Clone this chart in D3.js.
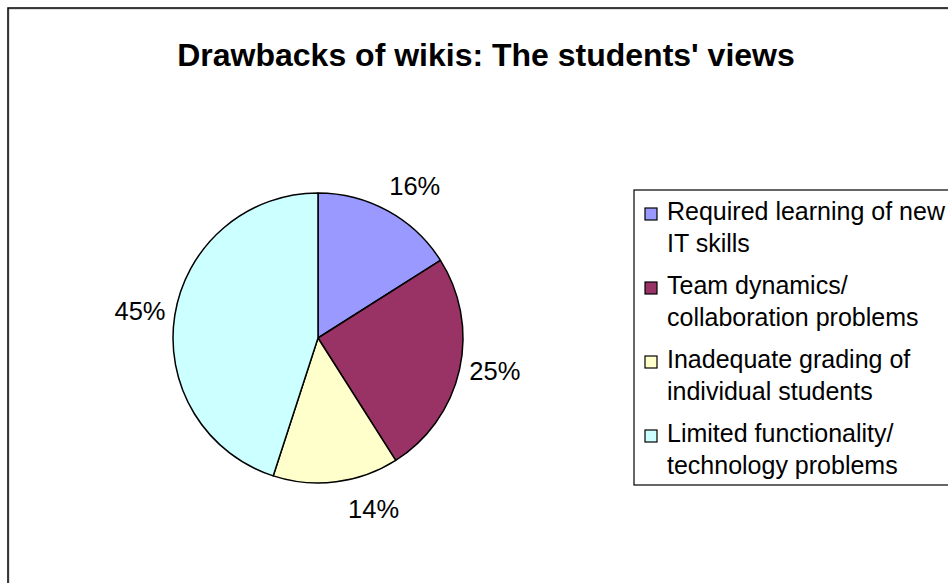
<!DOCTYPE html>
<html>
<head>
<meta charset="utf-8">
<script src="https://cdn.jsdelivr.net/npm/d3@7/dist/d3.min.js"></script>
<style>
  html, body { margin: 0; padding: 0; background: #fff; }
  svg { display: block; }
  text { font-family: "Liberation Sans", Arial, sans-serif; fill: #000; }
</style>
</head>
<body>
<script>
// Survey results: drawbacks of wikis as reported by students
const title = "Drawbacks of wikis: The students' views";
const categories = [
  "Required learning of new IT skills",
  "Team dynamics/ collaboration problems",
  "Inadequate grading of individual students",
  "Limited functionality/ technology problems"
];
// Legend text broken onto two lines per entry
const legendLines = [
  ["Required learning of new", "IT skills"],
  ["Team dynamics/", "collaboration problems"],
  ["Inadequate grading of", "individual students"],
  ["Limited functionality/", "technology problems"]
];
const shares = [16, 25, 14, 45];
const colors = ["#9999FF", "#993366", "#FFFFCC", "#CCFFFF"];

const W = 948, H = 583;
const svg = d3.select("body").append("svg")
  .attr("width", W).attr("height", H);

// Chart area frame (runs off the right and bottom of the view)
svg.append("rect")
  .attr("x", 9).attr("y", 9).attr("width", W + 20).attr("height", H + 20)
  .attr("fill", "none").attr("stroke", "#c0c0c0").attr("stroke-width", 1);
svg.append("rect")
  .attr("x", 8).attr("y", 8).attr("width", W + 20).attr("height", H + 20)
  .attr("fill", "none").attr("stroke", "#000").attr("stroke-width", 1.5);

// Title
svg.append("text")
  .attr("x", 486).attr("y", 66)
  .attr("text-anchor", "middle")
  .style("font-weight", "bold")
  .style("font-size", "32px")
  .text(title);

// Pie
const cx = 318, cy = 338, R = 145;
const pie = d3.pie().sort(null).value(d => d)
  .startAngle(0).endAngle(2 * Math.PI);
const arcs = pie(shares);
const arc = d3.arc().innerRadius(0).outerRadius(R);

const g = svg.append("g").attr("transform", `translate(${cx},${cy})`);
g.selectAll("path.slice")
  .data(arcs)
  .join("path")
  .attr("class", "slice")
  .attr("d", arc)
  .attr("fill", (d, i) => colors[i])
  .attr("stroke", "#000")
  .attr("stroke-width", 1.5)
  .attr("stroke-linejoin", "round");

// Percentage labels outside the pie; small angular nudges keep the
// bottom label clear of the neighbouring slice edge
const labelNudgeDeg = [3.7, -1.9, -10.8, -0.5];
const labelR = 180;
g.selectAll("text.pct")
  .data(arcs)
  .join("text")
  .attr("class", "pct")
  .attr("text-anchor", "middle")
  .attr("dominant-baseline", "central")
  .style("font-size", "25.5px")
  .attr("transform", (d, i) => {
    const a = (d.startAngle + d.endAngle) / 2 + labelNudgeDeg[i] * Math.PI / 180;
    return `translate(${labelR * Math.sin(a)},${-labelR * Math.cos(a)})`;
  })
  .text(d => d.data + "%");

// Legend
const lg = svg.append("g");
lg.append("rect")
  .attr("x", 634).attr("y", 190).attr("width", 400).attr("height", 295)
  .attr("fill", "#fff").attr("stroke", "#000").attr("stroke-width", 1.2);

const entryY = d3.scaleLinear().domain([0, 1]).range([220, 294]);
const lineGap = 32;
const items = lg.selectAll("g.item")
  .data(categories)
  .join("g")
  .attr("class", "item")
  .attr("transform", (d, i) => `translate(0,${entryY(i)})`);

items.append("rect")
  .attr("x", 645).attr("y", -12).attr("width", 12).attr("height", 12)
  .attr("fill", (d, i) => colors[i])
  .attr("stroke", "#000").attr("stroke-width", 1.2);

items.each(function (d, i) {
  const t = d3.select(this).append("text")
    .attr("x", 667).attr("y", 0)
    .style("font-size", "25px");
  legendLines[i].forEach((line, k) => {
    t.append("tspan").attr("x", 667).attr("y", k * lineGap).text(line);
  });
});
</script>
</body>
</html>
